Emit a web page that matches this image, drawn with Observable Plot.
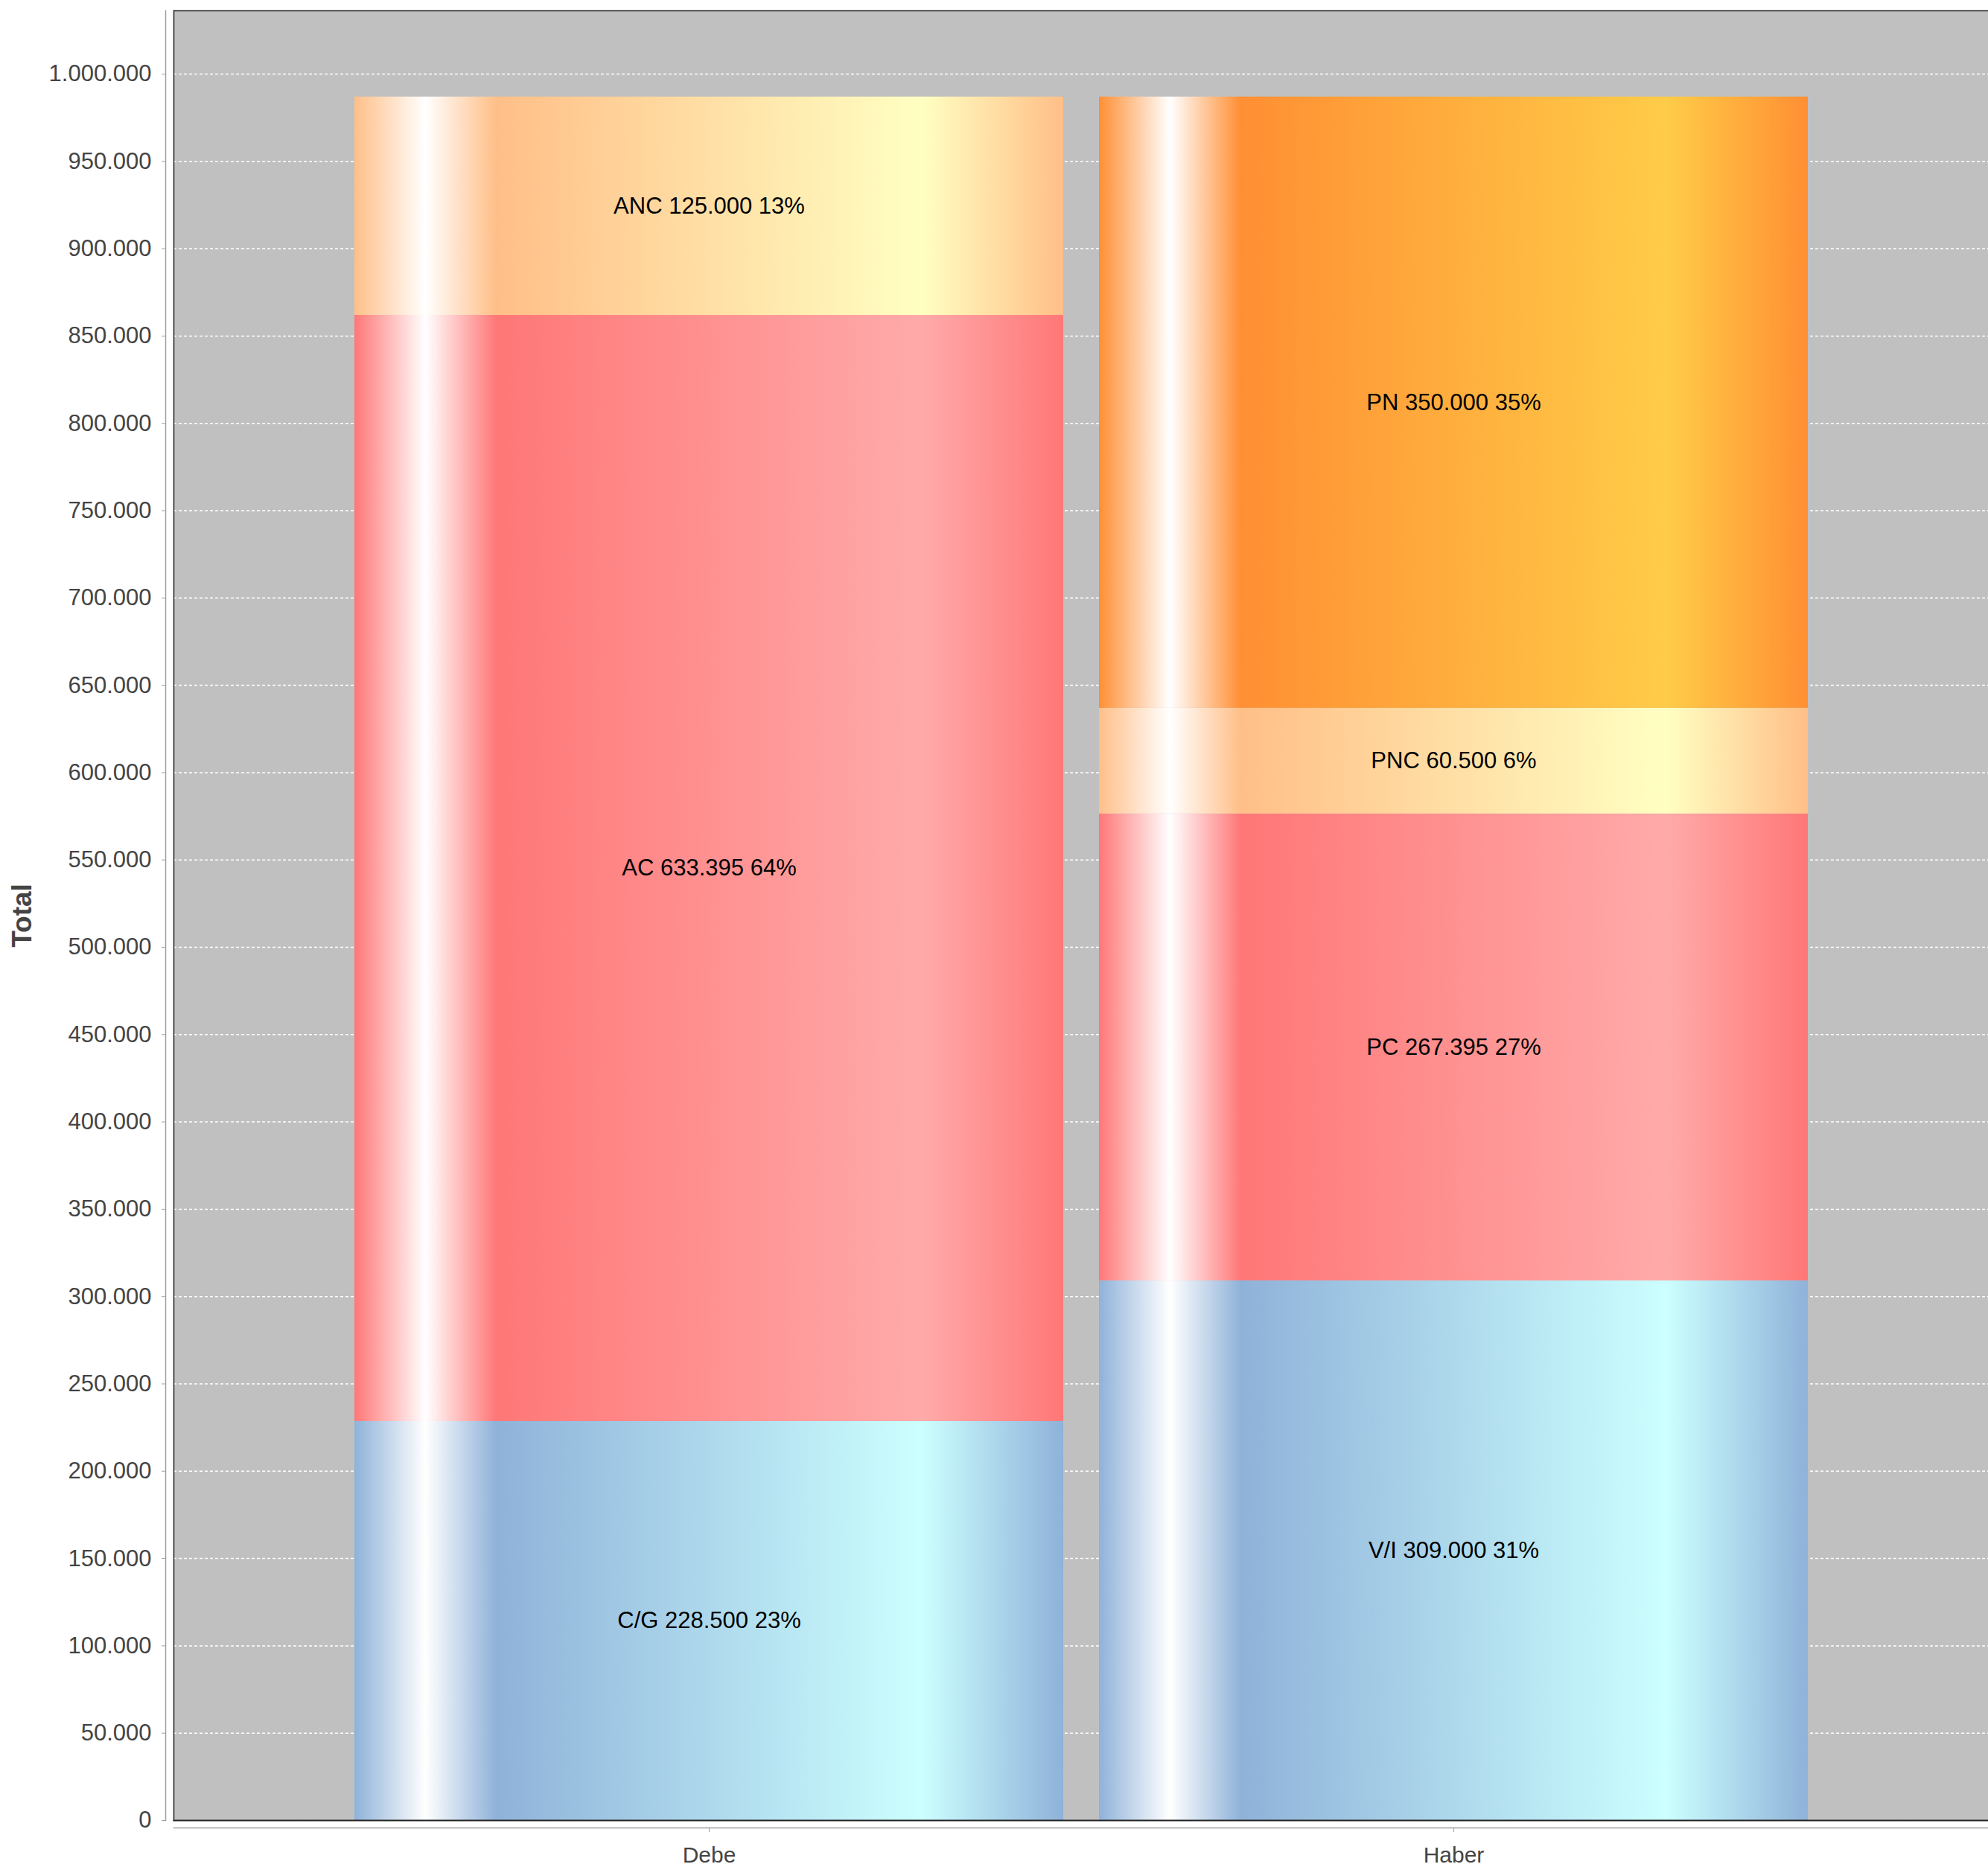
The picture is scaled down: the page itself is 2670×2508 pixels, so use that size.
<!DOCTYPE html>
<html>
<head>
<meta charset="utf-8">
<script src="https://cdn.jsdelivr.net/npm/d3@7"></script>
<script src="https://cdn.jsdelivr.net/npm/@observablehq/plot@0.6"></script>
<style>
  html, body { margin: 0; padding: 0; background: #ffffff; }
  #chart svg { display: block; }
</style>
</head>
<body>
<div id="chart"></div>
<script>
// ---- data ----
const categories = ["Debe", "Haber"];
const debeKeys = ["C/G", "AC", "ANC"];
const debeValues = [228500, 633395, 125000];
const haberKeys = ["V/I", "PC", "PNC", "PN"];
const haberValues = [309000, 267395, 60500, 350000];
const yTicks = d3.range(0, 1000001, 50000);

// ---- styles ----
const palette = {"C/G": "blue", "V/I": "blue", "AC": "red", "PC": "red", "ANC": "peach", "PNC": "peach", "PN": "orange"};
const gradients = {
  blue: ["#8fb2d9", "#ccffff"],
  red: ["#ff7777", "#ffaaaa"],
  peach: ["#ffbf88", "#ffffc2"],
  orange: ["#ff8f33", "#ffcc48"]
};

const locale = d3.formatLocale({decimal: ",", thousands: ".", grouping: [3], currency: ["", ""]});
const fmt = locale.format(",");

const rows = [];
[[debeKeys, debeValues], [haberKeys, haberValues]].forEach(([keys, values], i) => {
  const total = d3.sum(values);
  keys.forEach((k, j) => rows.push({
    category: categories[i],
    key: k,
    value: values[j],
    label: `${k} ${fmt(values[j])} ${Math.round(values[j] / total * 100)}%`
  }));
});
const maxTotal = d3.max([d3.sum(debeValues), d3.sum(haberValues)]);

const chart = Plot.plot({
  width: 2670,
  height: 2508,
  marginLeft: 233,
  marginRight: 0,
  marginTop: 14,
  marginBottom: 63,
  style: {fontFamily: "'Liberation Sans', Arial, Helvetica, sans-serif", background: "white", overflow: "visible"},
  x: {domain: categories, paddingInner: 0.048, paddingOuter: 0.2413, axis: null},
  y: {domain: [0, maxTotal * 1.05], axis: null},
  color: {type: "identity"},
  marks: [
    Plot.frame({fill: "#c0c0c0", stroke: null}),
    Plot.gridY(yTicks, {stroke: "white", strokeOpacity: 1, strokeWidth: 1.5, strokeDasharray: "4,3"}),
    Plot.barY(rows, Plot.stackY({x: "category", y: "value", z: "key", fill: d => `url(#grad-${palette[d.key]})`})),
    Plot.text(rows, Plot.stackY({x: "category", y: "value", z: "key", text: "label", fill: "black", fontSize: 31})),
    Plot.frame({anchor: "left", stroke: "#222", strokeWidth: 1.5}),
    Plot.frame({anchor: "top", stroke: "#222", strokeWidth: 1.5}),
    Plot.frame({anchor: "bottom", stroke: "#222", strokeWidth: 2}),
    Plot.frame({anchor: "left", stroke: "#a0a0a0", strokeWidth: 1.5, dx: -11}),
    Plot.frame({anchor: "bottom", stroke: "#a0a0a0", strokeWidth: 1.5, dy: 10}),
    Plot.axisY(yTicks, {anchor: "left", dx: -11, tickSize: 5, tickPadding: 14, tickFormat: fmt, fontSize: 31, fill: "#444", stroke: "#a0a0a0", label: null}),
    Plot.axisX({anchor: "bottom", dy: 10, tickSize: 6, tickPadding: 19, fontSize: 30, fill: "#444", stroke: "#a0a0a0", label: null}),
    Plot.text(["Total"], {text: d => d, frameAnchor: "left", textAnchor: "middle", dx: -203, rotate: -90, fontSize: 37, fontWeight: "bold", fill: "#444"})
  ]
});

const svg = d3.select(chart);
const defs = svg.insert("defs", ":first-child");
for (const [name, [c0, c1]] of Object.entries(gradients)) {
  const g = defs.append("linearGradient")
    .attr("id", "grad-" + name)
    .attr("x1", 0).attr("x2", 1).attr("y1", 0).attr("y2", 0);
  [[0, c0], [0.1, "#ffffff"], [0.2, c0], [0.8, c1], [1, c0]].forEach(([o, c]) =>
    g.append("stop").attr("offset", o).attr("stop-color", c));
}

document.getElementById("chart").appendChild(chart);
</script>
</body>
</html>
